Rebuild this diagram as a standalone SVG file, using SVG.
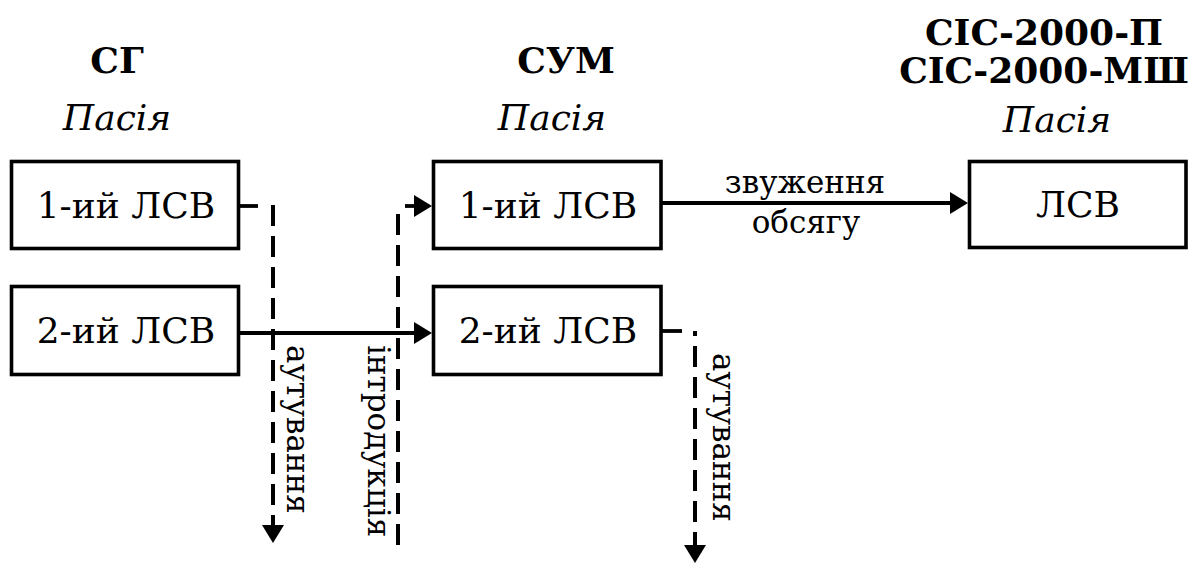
<svg xmlns="http://www.w3.org/2000/svg" width="1190" height="564" viewBox="0 0 1190 564">
  <style>
    text { fill: #000; font-family: "DejaVu Serif", serif; }
    .head { font-size: 36px; font-weight: bold; text-anchor: middle; }
    .sub { font-size: 36px; font-style: italic; text-anchor: middle; }
    .box rect { fill: #fff; stroke: #000; stroke-width: 3.6; }
    .box text { font-size: 36px; text-anchor: middle; }
    .lbl { font-size: 31px; }
    .solid { fill: none; stroke: #000; stroke-width: 3.8; }
    .dash { fill: none; stroke: #000; stroke-width: 4; stroke-dasharray: 21 10; }
  </style>
  <defs>
    <marker id="arrow" markerUnits="userSpaceOnUse" markerWidth="20" markerHeight="22" viewBox="0 0 18 22" refX="1" refY="11" orient="auto">
      <path d="M0,0 L18,11 L0,22 Z" fill="#000"/>
    </marker>
  </defs>

  <!-- column headers -->
  <g id="headers">
    <text class="head" x="117" y="73">СГ</text>
    <text class="sub" x="117" y="130">Пасія</text>
    <text class="head" x="566" y="73">СУМ</text>
    <text class="sub" x="552" y="130">Пасія</text>
    <text class="head" x="1044" y="45">СІС-2000-П</text>
    <text class="head" x="1044" y="83">СІС-2000-МШ</text>
    <text class="sub" x="1057" y="132">Пасія</text>
  </g>

  <!-- connectors -->
  <g id="connectors">
    <!-- outflow from the first group, left column -->
    <line class="solid" x1="239" y1="206" x2="258" y2="206"/>
    <line class="dash" x1="273" y1="205" x2="273" y2="526" marker-end="url(#arrow)"/>
    <text class="lbl" transform="translate(287,345) rotate(90)">аутування</text>

    <!-- inflow into the first group, middle column -->
    <line class="dash" x1="398" y1="545" x2="398" y2="206"/>
    <line class="solid" x1="405" y1="206" x2="415" y2="206" marker-end="url(#arrow)"/>
    <text class="lbl" transform="translate(368,345) rotate(90)">інтродукція</text>

    <!-- second group carried over -->
    <line class="solid" x1="239" y1="333" x2="415" y2="333" marker-end="url(#arrow)"/>

    <!-- narrowing to the single group -->
    <line class="solid" x1="661" y1="203" x2="951" y2="203" marker-end="url(#arrow)"/>
    <text class="lbl" x="805" y="193" text-anchor="middle">звуження</text>
    <text class="lbl" x="806" y="233" text-anchor="middle">обсягу</text>

    <!-- outflow from the second group, middle column -->
    <line class="solid" x1="661" y1="331" x2="682" y2="331"/>
    <line class="dash" x1="695" y1="331" x2="695" y2="546" stroke-dashoffset="16" marker-end="url(#arrow)"/>
    <text class="lbl" transform="translate(713,353) rotate(90)">аутування</text>
  </g>

  <!-- nodes -->
  <g id="sg-1" class="box">
    <rect x="11.5" y="161.5" width="227" height="87"/>
    <text x="126" y="218">1-ий ЛСВ</text>
  </g>
  <g id="sg-2" class="box">
    <rect x="11.5" y="286.5" width="227" height="88"/>
    <text x="126" y="343">2-ий ЛСВ</text>
  </g>
  <g id="sum-1" class="box">
    <rect x="433.5" y="161.5" width="227.5" height="87"/>
    <text x="548" y="218">1-ий ЛСВ</text>
  </g>
  <g id="sum-2" class="box">
    <rect x="433.5" y="286.5" width="227.5" height="88"/>
    <text x="548" y="343">2-ий ЛСВ</text>
  </g>
  <g id="sis-1" class="box">
    <rect x="969.5" y="161.5" width="216.5" height="86"/>
    <text x="1078" y="217">ЛСВ</text>
  </g>
</svg>
